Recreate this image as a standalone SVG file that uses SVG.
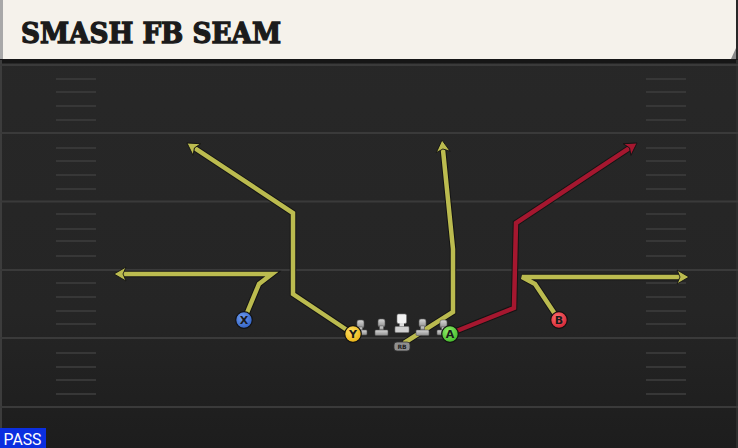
<svg xmlns="http://www.w3.org/2000/svg" width="738" height="448" viewBox="0 0 738 448">
<style>
.yl{stroke:#3a3a3a;stroke-width:2;fill:none}
.hm{stroke:#373737;stroke-width:2;fill:none}
.under{fill:none;stroke:#141414;stroke-width:6.5;stroke-linejoin:miter;stroke-linecap:butt}
.ry{fill:none;stroke:#bbbb4f;stroke-width:4.5;stroke-linejoin:miter;stroke-linecap:butt;marker-end:url(#ay)}
.rr{fill:none;stroke:#a5172f;stroke-width:4.5;stroke-linejoin:miter;stroke-linecap:butt;marker-end:url(#ar)}
.pl{stroke:#111;stroke-width:1.2}
.pt{font-family:"DejaVu Sans",sans-serif;font-weight:bold;font-size:11px;fill:#1a1a1a;text-anchor:middle}
.ol{fill:url(#olg);stroke:#555;stroke-width:0.6}
</style>
<defs>
<linearGradient id="field" x1="0" y1="0" x2="0" y2="1">
<stop offset="0" stop-color="#282828"/>
<stop offset="0.7" stop-color="#252525"/>
<stop offset="1" stop-color="#1d1d1d"/>
</linearGradient>
<linearGradient id="olg" x1="0" y1="0" x2="0" y2="1">
<stop offset="0" stop-color="#d8d8d8"/>
<stop offset="1" stop-color="#8e8e8e"/>
</linearGradient>
<radialGradient id="gx" cx="0.4" cy="0.35" r="0.7"><stop offset="0" stop-color="#6f9cf0"/><stop offset="1" stop-color="#2f5fc0"/></radialGradient>
<radialGradient id="gy" cx="0.4" cy="0.35" r="0.7"><stop offset="0" stop-color="#ffe066"/><stop offset="1" stop-color="#e8b010"/></radialGradient>
<radialGradient id="ga" cx="0.4" cy="0.35" r="0.7"><stop offset="0" stop-color="#90ee6a"/><stop offset="1" stop-color="#40b528"/></radialGradient>
<radialGradient id="gb" cx="0.4" cy="0.35" r="0.7"><stop offset="0" stop-color="#ff7070"/><stop offset="1" stop-color="#d02030"/></radialGradient>
<marker id="ay" markerUnits="userSpaceOnUse" viewBox="-7 -9 17 18" markerWidth="17" markerHeight="18" refX="0" refY="0" orient="auto">
<path d="M7.5,0 L-4.5,-7 L-1.5,0 L-4.5,7 Z" fill="#bbbb4f" stroke="#141414" stroke-width="0.9" stroke-linejoin="miter"/>
</marker>
<marker id="ar" markerUnits="userSpaceOnUse" viewBox="-7 -9 17 18" markerWidth="17" markerHeight="18" refX="0" refY="0" orient="auto">
<path d="M7.5,0 L-4.5,-7 L-1.5,0 L-4.5,7 Z" fill="#a5172f" stroke="#141414" stroke-width="0.9" stroke-linejoin="miter"/>
</marker>
</defs>

<g id="field-bg">
<rect x="0" y="0" width="738" height="448" fill="url(#field)"/>
<rect x="0" y="59" width="738" height="4" fill="#161616"/>
<line x1="1" y1="60" x2="1" y2="448" stroke="#3c3c3c" stroke-width="2"/>
<line x1="737" y1="60" x2="737" y2="448" stroke="#2e2e2e" stroke-width="2"/>
</g>

<g id="yard-lines">
<line class="yl" x1="0" y1="65" x2="738" y2="65"/>
<line class="yl" x1="0" y1="133" x2="738" y2="133"/>
<line class="yl" x1="0" y1="201.5" x2="738" y2="201.5"/>
<line class="yl" x1="0" y1="270" x2="738" y2="270"/>
<line class="yl" x1="0" y1="338" x2="738" y2="338"/>
<line class="yl" x1="0" y1="407" x2="738" y2="407"/>
</g>

<g id="hash-marks">
<path class="hm" d="M56,79H96M56,92H96M56,106H96M56,120H96M56,148H96M56,161H96M56,175H96M56,189H96M56,214H96M56,229H96M56,241H96M56,256H96M56,283H96M56,297H96M56,311H96M56,324H96M56,353H96M56,367H96M56,380H96M56,394H96"/>
<path class="hm" d="M646,79H686M646,92H686M646,106H686M646,120H686M646,148H686M646,161H686M646,175H686M646,189H686M646,214H686M646,229H686M646,241H686M646,256H686M646,283H686M646,297H686M646,311H686M646,324H686M646,353H686M646,367H686M646,380H686M646,394H686"/>
</g>

<g id="title-banner">
<rect x="0" y="0" width="736" height="59" fill="#f5f2eb"/>
<rect x="0" y="0" width="3" height="59" fill="#a8a8a8"/>
<path d="M731,59 L736,48 L736,59 Z" fill="#8a8a8a"/>
<text x="21" y="43" font-family="'DejaVu Serif',serif" font-weight="bold" font-size="27" fill="#1b1b1b" stroke="#1b1b1b" stroke-width="1.3" stroke-linejoin="miter" textLength="260" lengthAdjust="spacingAndGlyphs">SMASH FB SEAM</text>
</g>

<g id="connectors">
<path class="under" d="M244,320 L259,284 L272,274 L121.5,274"/>
<path class="ry" d="M244,320 L259,284 L272,274 L121.5,274"/>
<path class="under" d="M353,334 L293,294 L293,213 L193.2,147.1"/>
<path class="ry" d="M353,334 L293,294 L293,213 L193.2,147.1"/>
<path class="under" d="M404,343 L453,312 L453,249 L442.75,147.5"/>
<path class="ry" d="M404,343 L453,312 L453,249 L442.75,147.5"/>
<path class="under" d="M449,334 L514,308 L516,223 L630.8,147.1"/>
<path class="rr" d="M449,334 L514,308 L516,223 L630.8,147.1"/>
<path class="under" d="M559,320 L535,284 L522,277 L681.5,277"/>
<path class="ry" d="M559,320 L535,284 L522,277 L681.5,277"/>
</g>

<g id="line-LT">
<rect class="ol" x="357" y="320" width="7" height="8" rx="2"/>
<rect class="ol" x="358.5" y="327" width="4" height="4"/>
<rect class="ol" x="354" y="330" width="13" height="5" rx="1"/>
</g>
<g id="line-LG">
<rect class="ol" x="378" y="319" width="7" height="8" rx="2"/>
<rect class="ol" x="379.5" y="326" width="4" height="4"/>
<rect class="ol" x="375" y="330" width="13" height="5.5" rx="1"/>
</g>
<g id="line-C">
<rect x="397" y="314" width="9.5" height="9.5" rx="1.5" fill="#f2f2f2" stroke="#777" stroke-width="0.6"/>
<rect x="399.5" y="323" width="4.5" height="4" fill="#dcdcdc"/>
<rect x="395" y="326.5" width="14" height="6" rx="1" fill="#d0d0d0" stroke="#777" stroke-width="0.6"/>
</g>
<g id="line-RG">
<rect class="ol" x="419" y="319" width="7" height="8" rx="2"/>
<rect class="ol" x="420.5" y="326" width="4" height="4"/>
<rect class="ol" x="416" y="330" width="13" height="5.5" rx="1"/>
</g>
<g id="line-RT">
<rect class="ol" x="440" y="320" width="7" height="8" rx="2"/>
<rect class="ol" x="441.5" y="327" width="4" height="4"/>
<rect class="ol" x="437" y="330" width="13" height="5" rx="1"/>
</g>

<g id="RB">
<rect x="394" y="342" width="16" height="9" rx="3" fill="#8f8f8f" stroke="#333" stroke-width="0.8"/>
<text x="402" y="349.2" font-family="'DejaVu Sans',sans-serif" font-weight="bold" font-size="6" fill="#222" text-anchor="middle">RB</text>
</g>

<g id="X">
<circle class="pl" cx="244" cy="320" r="8.3" fill="url(#gx)"/>
<text class="pt" x="244" y="324">X</text>
</g>
<g id="Y">
<circle class="pl" cx="353" cy="334" r="8.3" fill="url(#gy)"/>
<text class="pt" x="353" y="338">Y</text>
</g>
<g id="A">
<circle class="pl" cx="450" cy="334" r="8.3" fill="url(#ga)"/>
<text class="pt" x="450" y="338">A</text>
</g>
<g id="B">
<circle class="pl" cx="559" cy="320" r="8.3" fill="url(#gb)"/>
<text class="pt" x="559" y="324">B</text>
</g>

<g id="pass-tag">
<rect x="0" y="428" width="46" height="20" fill="#0b2fe0"/>
<text x="3.5" y="445" font-family="Roboto,'Liberation Sans',sans-serif" font-size="17" fill="#ffffff" textLength="38" lengthAdjust="spacingAndGlyphs">PASS</text>
</g>
</svg>
